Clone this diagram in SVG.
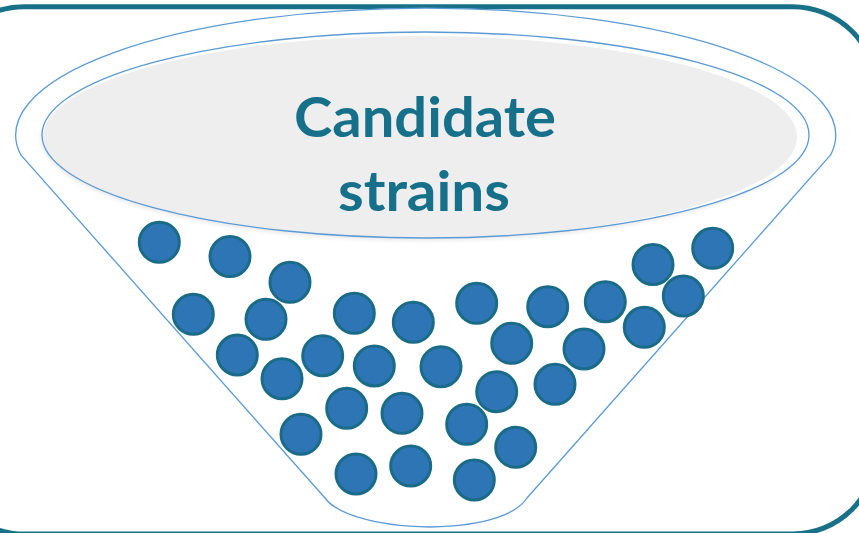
<svg xmlns="http://www.w3.org/2000/svg" width="859" height="533" viewBox="0 0 859 533">
<defs>
<style>
.border{fill:none;stroke:#187089;stroke-width:5}
.funnel{fill:#ffffff;stroke:#5B9BD5;stroke-width:1.3}
.rim{fill:none;stroke:#5B9BD5;stroke-width:1.3}
.label{font-family:Lato,"Open Sans","Liberation Sans",sans-serif;font-weight:bold;font-size:56px;fill:#17708A;text-anchor:middle}
.ball{fill:#2E75B6;stroke:#1A6B87;stroke-width:3}
</style>
<filter id="sh" x="-10%" y="-10%" width="120%" height="130%">
<feGaussianBlur stdDeviation="2"/>
</filter>
</defs>
<rect class="border" x="-60" y="6.7" width="936.6" height="527.3" rx="84" ry="84"/>
<g id="funnel">
<path class="funnel" d="M 20.8 155 A 410 127 0 1 1 830.6 155 L 527 498 C 518 512 490 526 430 527 C 370 526 335 512 325 498 Z"/>
</g>
<g id="top">
<ellipse cx="424" cy="137.5" rx="383" ry="103" fill="#d9d9d9" opacity="0.6" filter="url(#sh)"/>
<ellipse cx="425.5" cy="135" rx="383.5" ry="103" fill="#ffffff"/>
<ellipse cx="420" cy="137" rx="377" ry="101" fill="#EEEEEE"/>
<ellipse class="rim" cx="425.5" cy="135" rx="383.5" ry="103"/>
<text class="label" x="425" y="136.7" textLength="262" lengthAdjust="spacingAndGlyphs">Candidate</text>
<text class="label" x="424" y="210.7" textLength="172" lengthAdjust="spacingAndGlyphs">strains</text>
</g>
<g id="strains">
<circle class="ball" cx="159.3" cy="242.3" r="20"/>
<circle class="ball" cx="230" cy="256.5" r="20"/>
<circle class="ball" cx="290" cy="282.3" r="20"/>
<circle class="ball" cx="653" cy="264.5" r="20"/>
<circle class="ball" cx="712.7" cy="248.3" r="20"/>
<circle class="ball" cx="193.3" cy="314.3" r="20"/>
<circle class="ball" cx="266" cy="319.3" r="20"/>
<circle class="ball" cx="354.3" cy="313.3" r="20"/>
<circle class="ball" cx="413.3" cy="322.3" r="20"/>
<circle class="ball" cx="476.7" cy="303.3" r="20"/>
<circle class="ball" cx="547.7" cy="306.7" r="20"/>
<circle class="ball" cx="605.3" cy="301.7" r="20"/>
<circle class="ball" cx="683.3" cy="296" r="20"/>
<circle class="ball" cx="644.3" cy="327.3" r="20"/>
<circle class="ball" cx="237.3" cy="355" r="20"/>
<circle class="ball" cx="322.7" cy="355.7" r="20"/>
<circle class="ball" cx="374.3" cy="366" r="20"/>
<circle class="ball" cx="441" cy="366.7" r="20"/>
<circle class="ball" cx="511.7" cy="343.3" r="20"/>
<circle class="ball" cx="584" cy="349" r="20"/>
<circle class="ball" cx="282" cy="378.7" r="20"/>
<circle class="ball" cx="346.7" cy="408.3" r="20"/>
<circle class="ball" cx="402" cy="413.3" r="20"/>
<circle class="ball" cx="496.7" cy="391.7" r="20"/>
<circle class="ball" cx="555" cy="384.3" r="20"/>
<circle class="ball" cx="301" cy="434.3" r="20"/>
<circle class="ball" cx="466.7" cy="424.3" r="20"/>
<circle class="ball" cx="515.7" cy="447.3" r="20"/>
<circle class="ball" cx="356" cy="474" r="20"/>
<circle class="ball" cx="410.7" cy="466" r="20"/>
<circle class="ball" cx="474.3" cy="480" r="20"/>
</g>
</svg>
